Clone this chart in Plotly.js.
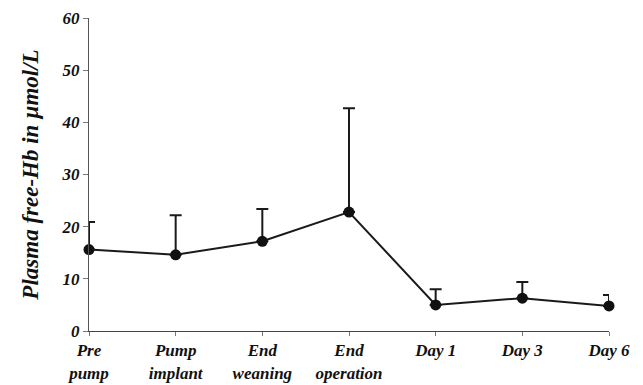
<!DOCTYPE html>
<html>
<head>
<meta charset="utf-8">
<script src="https://cdn.plot.ly/plotly-3.0.1.min.js"></script>
<style>html,body{margin:0;padding:0;background:#fff;}#chart{width:643px;height:385px;}</style>
</head>
<body>
<div id="chart"></div>
<script>
const categories = ["Pre<br>pump", "Pump<br>implant", "End<br>weaning", "End<br>operation", "Day 1", "Day 3", "Day 6"];
const means = [15.6, 14.6, 17.2, 22.8, 5.0, 6.3, 4.8];
const upperSD = [5.3, 7.6, 6.2, 19.9, 3.0, 3.1, 2.1];
const yTicks = [0, 10, 20, 30, 40, 50, 60];
const yTitle = "Plasma free-Hb in µmol/L";

const fontSpec = {family: "Liberation Serif", color: "#111"};
const bi = s => "<b><i>" + s + "</i></b>";

const trace = {
  x: categories.map((c, i) => i),
  y: means,
  type: "scatter",
  mode: "lines+markers",
  line: {color: "#1a1a1a", width: 2},
  marker: {color: "#111", size: 11},
  cliponaxis: false,
  error_y: {type: "data", symmetric: false, array: upperSD, arrayminus: means.map(() => 0), color: "#1a1a1a", thickness: 2, width: 6}
};

const layout = {
  width: 643, height: 385,
  margin: {l: 89, r: 34, t: 18, b: 54},
  paper_bgcolor: "#fff", plot_bgcolor: "#fff",
  showlegend: false,
  xaxis: {
    range: [0, 6],
    tickmode: "array",
    tickvals: categories.map((c, i) => i),
    ticktext: categories.map(c => c.split("<br>").map(bi).join("<br>")),
    showgrid: false, zeroline: false,
    showline: true, linecolor: "#444", linewidth: 1,
    ticks: "outside", ticklen: 4, tickcolor: "#777",
    tickfont: Object.assign({size: 17}, fontSpec)
  },
  yaxis: {
    range: [0, 60],
    tickmode: "array",
    tickvals: yTicks,
    ticktext: yTicks.map(v => bi(String(v))),
    showgrid: false, zeroline: false,
    showline: true, linecolor: "#555", linewidth: 1,
    ticks: "outside", ticklen: 5, tickcolor: "#777",
    tickfont: Object.assign({size: 17}, fontSpec),
    title: {text: bi(yTitle), font: Object.assign({size: 23}, fontSpec), standoff: 16}
  }
};

Plotly.newPlot("chart", [trace], layout, {displayModeBar: false, staticPlot: true});
</script>
</body>
</html>
